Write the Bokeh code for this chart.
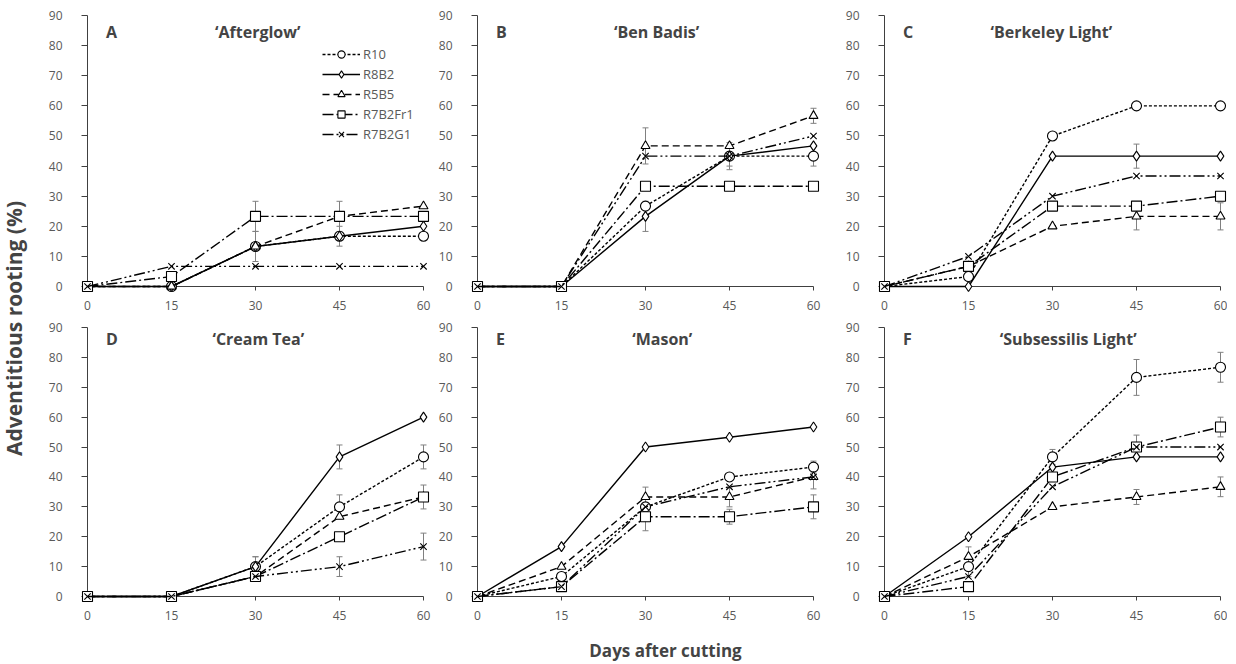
from bokeh.plotting import figure
from bokeh.layouts import row, column
from bokeh.models import (Range1d, Label, Legend, LegendItem, Whisker,
                          ColumnDataSource, FixedTicker, TeeHead)
from bokeh.embed import file_html
from bokeh.resources import INLINE

# ---------------- data ----------------
days = [0, 15, 30, 45, 60]
series_names = ["R10", "R8B2", "R5B5", "R7B2Fr1", "R7B2G1"]
panel_letters = ["A", "B", "C", "D", "E", "F"]
panel_titles = ["\u2018Afterglow\u2019", "\u2018Ben Badis\u2019", "\u2018Berkeley Light\u2019",
                "\u2018Cream Tea\u2019", "\u2018Mason\u2019", "\u2018Subsessilis Light\u2019"]

# A  'Afterglow'
afterglow_R10 = [0, 0, 13.3, 16.7, 16.7]
afterglow_R8B2 = [0, 0, 13.3, 16.7, 20.0]
afterglow_R5B5 = [0, 0, 13.3, 23.3, 26.7]
afterglow_R7B2Fr1 = [0, 3.3, 23.3, 23.3, 23.3]
afterglow_R7B2G1 = [0, 6.7, 6.7, 6.7, 6.7]
afterglow_R10_err = [0, 0, 5.0, 3.3, 0]
afterglow_R8B2_err = [0, 0, 0, 0, 0]
afterglow_R5B5_err = [0, 0, 0, 5.0, 0]
afterglow_R7B2Fr1_err = [0, 0, 5.0, 0, 0]
afterglow_R7B2G1_err = [0, 0, 0, 0, 0]

# B  'Ben Badis'
benbadis_R10 = [0, 0, 26.7, 43.3, 43.3]
benbadis_R8B2 = [0, 0, 23.3, 43.3, 46.7]
benbadis_R5B5 = [0, 0, 46.7, 46.7, 56.7]
benbadis_R7B2Fr1 = [0, 0, 33.3, 33.3, 33.3]
benbadis_R7B2G1 = [0, 0, 43.3, 43.3, 50.0]
benbadis_R10_err = [0, 0, 0, 3.3, 3.3]
benbadis_R8B2_err = [0, 0, 5.0, 0, 0]
benbadis_R5B5_err = [0, 0, 6.0, 0, 2.5]
benbadis_R7B2Fr1_err = [0, 0, 0, 0, 0]
benbadis_R7B2G1_err = [0, 0, 0, 4.5, 0]

# C  'Berkeley Light'
berkeley_R10 = [0, 3.3, 50.0, 60.0, 60.0]
berkeley_R8B2 = [0, 0, 43.3, 43.3, 43.3]
berkeley_R5B5 = [0, 6.7, 20.0, 23.3, 23.3]
berkeley_R7B2Fr1 = [0, 6.7, 26.7, 26.7, 30.0]
berkeley_R7B2G1 = [0, 10.0, 30.0, 36.7, 36.7]
berkeley_R10_err = [0, 0, 0, 0, 0]
berkeley_R8B2_err = [0, 0, 0, 4.0, 0]
berkeley_R5B5_err = [0, 0, 0, 4.5, 4.5]
berkeley_R7B2Fr1_err = [0, 0, 0, 0, 0]
berkeley_R7B2G1_err = [0, 0, 0, 0, 0]

# D  'Cream Tea'
creamtea_R10 = [0, 0, 10.0, 30.0, 46.7]
creamtea_R8B2 = [0, 0, 10.0, 46.7, 60.0]
creamtea_R5B5 = [0, 0, 6.7, 26.7, 33.3]
creamtea_R7B2Fr1 = [0, 0, 6.7, 20.0, 33.3]
creamtea_R7B2G1 = [0, 0, 6.7, 10.0, 16.7]
creamtea_R10_err = [0, 0, 3.3, 4.0, 4.0]
creamtea_R8B2_err = [0, 0, 3.3, 4.0, 0]
creamtea_R5B5_err = [0, 0, 0, 0, 4.0]
creamtea_R7B2Fr1_err = [0, 0, 0, 0, 0]
creamtea_R7B2G1_err = [0, 0, 0, 3.3, 4.5]

# E  'Mason'
mason_R10 = [0, 6.7, 30.0, 40.0, 43.3]
mason_R8B2 = [0, 16.7, 50.0, 53.3, 56.7]
mason_R5B5 = [0, 10.0, 33.3, 33.3, 40.0]
mason_R7B2Fr1 = [0, 3.3, 26.7, 26.7, 30.0]
mason_R7B2G1 = [0, 3.3, 30.0, 36.7, 40.0]
mason_R10_err = [0, 0, 0, 0, 2.0]
mason_R8B2_err = [0, 0, 0, 0, 0]
mason_R5B5_err = [0, 0, 3.3, 3.3, 4.0]
mason_R7B2Fr1_err = [0, 0, 4.7, 2.5, 4.0]
mason_R7B2G1_err = [0, 0, 0, 0, 0]

# F  'Subsessilis Light'
subsessilis_R10 = [0, 10.0, 46.7, 73.3, 76.7]
subsessilis_R8B2 = [0, 20.0, 43.3, 46.7, 46.7]
subsessilis_R5B5 = [0, 13.3, 30.0, 33.3, 36.7]
subsessilis_R7B2Fr1 = [0, 3.3, 40.0, 50.0, 56.7]
subsessilis_R7B2G1 = [0, 6.7, 36.7, 50.0, 50.0]
subsessilis_R10_err = [0, 3.3, 2.5, 6.0, 5.0]
subsessilis_R8B2_err = [0, 0, 0, 0, 0]
subsessilis_R5B5_err = [0, 3.3, 0, 2.5, 3.3]
subsessilis_R7B2Fr1_err = [0, 0, 0, 4.0, 3.3]
subsessilis_R7B2G1_err = [0, 0, 0, 0, 0]

panels_values = [
    [afterglow_R10, afterglow_R8B2, afterglow_R5B5, afterglow_R7B2Fr1, afterglow_R7B2G1],
    [benbadis_R10, benbadis_R8B2, benbadis_R5B5, benbadis_R7B2Fr1, benbadis_R7B2G1],
    [berkeley_R10, berkeley_R8B2, berkeley_R5B5, berkeley_R7B2Fr1, berkeley_R7B2G1],
    [creamtea_R10, creamtea_R8B2, creamtea_R5B5, creamtea_R7B2Fr1, creamtea_R7B2G1],
    [mason_R10, mason_R8B2, mason_R5B5, mason_R7B2Fr1, mason_R7B2G1],
    [subsessilis_R10, subsessilis_R8B2, subsessilis_R5B5, subsessilis_R7B2Fr1, subsessilis_R7B2G1],
]
panels_errors = [
    [afterglow_R10_err, afterglow_R8B2_err, afterglow_R5B5_err, afterglow_R7B2Fr1_err, afterglow_R7B2G1_err],
    [benbadis_R10_err, benbadis_R8B2_err, benbadis_R5B5_err, benbadis_R7B2Fr1_err, benbadis_R7B2G1_err],
    [berkeley_R10_err, berkeley_R8B2_err, berkeley_R5B5_err, berkeley_R7B2Fr1_err, berkeley_R7B2G1_err],
    [creamtea_R10_err, creamtea_R8B2_err, creamtea_R5B5_err, creamtea_R7B2Fr1_err, creamtea_R7B2G1_err],
    [mason_R10_err, mason_R8B2_err, mason_R5B5_err, mason_R7B2Fr1_err, mason_R7B2G1_err],
    [subsessilis_R10_err, subsessilis_R8B2_err, subsessilis_R5B5_err, subsessilis_R7B2Fr1_err, subsessilis_R7B2G1_err],
]

x_ticks = [0, 15, 30, 45, 60]
y_ticks = [0, 10, 20, 30, 40, 50, 60, 70, 80, 90]

# ---------------- styles / layout ----------------
FONT = "Open Sans"
GRAY = "#595959"
markers = ["circle", "diamond", "triangle", "square", "x"]
marker_sizes = [10, 10, 9, 10, 9]
dashes = ["3 2", "solid", "7 4", "11 3 2 3", "11 3 2 3 2 3"]
title_x = [30.4, 32.0, 29.8, 30.5, 33.0, 32.8]
border_right = [5, 22, 0]
row_frame_h = [286, 277]
row_y_top = [95.0, 92.68]
row_label_y = [84.4, 86.0]
FRAME_W = 343
BORDER_L, BORDER_B = 42, 33
YLAB_W = 45


def make_panel(i):
    col, rw = i % 3, i // 3
    p = figure(frame_width=FRAME_W, frame_height=row_frame_h[rw],
               x_range=Range1d(0, 61.25), y_range=Range1d(0, row_y_top[rw]),
               output_backend="svg", toolbar_location=None,
               min_border_left=BORDER_L, min_border_right=border_right[col],
               min_border_top=0, min_border_bottom=BORDER_B)
    p.outline_line_color = None
    p.grid.visible = False
    for ax in (p.xaxis[0], p.yaxis[0]):
        ax.axis_line_color = "#404040"
        ax.major_tick_line_color = "#404040"
        ax.minor_tick_line_color = None
        ax.major_tick_in = 0
        ax.major_label_text_font = FONT
        ax.major_label_text_font_size = "12px"
        ax.major_label_text_color = GRAY
    p.xaxis.ticker = FixedTicker(ticks=x_ticks)
    p.yaxis.ticker = FixedTicker(ticks=y_ticks)
    p.xaxis.bounds = (0, 60)
    p.yaxis.bounds = (0, 90)
    p.xaxis.major_tick_out = 4
    p.xaxis.major_label_standoff = 10
    p.yaxis.major_tick_out = 6
    p.yaxis.major_label_standoff = 19

    items = []
    for k, name in enumerate(series_names):
        vals = panels_values[i][k]
        errs = panels_errors[i][k]
        ex = [d for d, e in zip(days, errs) if e > 0]
        ey = [v for v, e in zip(vals, errs) if e > 0]
        ee = [e for e in errs if e > 0]
        if ex:
            wsrc = ColumnDataSource(dict(x=ex,
                                         upper=[a + b for a, b in zip(ey, ee)],
                                         lower=[a - b for a, b in zip(ey, ee)]))
            p.add_layout(Whisker(source=wsrc, base="x", upper="upper", lower="lower",
                                 line_color="#808080", line_width=1,
                                 upper_head=TeeHead(size=6, line_color="#808080", line_width=1),
                                 lower_head=TeeHead(size=6, line_color="#808080", line_width=1)))
        src = ColumnDataSource(dict(x=days, y=vals))
        ln = p.line("x", "y", source=src, line_color="black", line_width=1.4,
                    line_dash=dashes[k], level="overlay")
        sc = p.scatter("x", "y", source=src, marker=markers[k], size=marker_sizes[k],
                       line_color="black", line_width=1.1, fill_color="white",
                       level="overlay")
        items.append(LegendItem(label=name, renderers=[ln, sc]))

    p.add_layout(Label(x=3.3, y=row_label_y[rw], text=panel_letters[i], text_font=FONT,
                       text_font_style="bold", text_font_size="16px",
                       text_align="left", text_baseline="middle"))
    p.add_layout(Label(x=title_x[i], y=row_label_y[rw], text=panel_titles[i], text_font=FONT,
                       text_font_style="bold", text_font_size="16px",
                       text_align="center", text_baseline="middle"))
    if i == 0:
        leg = Legend(items=items, location=(235, 143), orientation="vertical",
                     glyph_width=38, glyph_height=18, label_height=18, spacing=2,
                     label_standoff=3, padding=0, margin=0,
                     label_text_font=FONT, label_text_font_size="13px",
                     label_text_color=GRAY, border_line_color=None,
                     background_fill_alpha=0)
        p.add_layout(leg)
    return p


panels = [make_panel(i) for i in range(6)]
total_h = sum(row_frame_h) + 2 * BORDER_B

ylab = figure(width=YLAB_W, height=total_h, x_range=Range1d(0, YLAB_W), y_range=Range1d(0, total_h),
              x_axis_type=None, y_axis_type=None, output_backend="svg",
              toolbar_location=None, min_border=0)
ylab.outline_line_color = None
ylab.grid.visible = False
ylab.add_layout(Label(x=13, y=total_h - 328, text="Adventitious rooting (%)", angle=90,
                      angle_units="deg", text_font=FONT, text_font_style="bold",
                      text_font_size="21px", text_align="center", text_baseline="middle"))

total_w = YLAB_W + sum(BORDER_L + FRAME_W + br for br in border_right)
XLAB_H = 32
xlab = figure(width=total_w, height=XLAB_H, x_range=Range1d(0, total_w), y_range=Range1d(0, XLAB_H),
              x_axis_type=None, y_axis_type=None, output_backend="svg",
              toolbar_location=None, min_border=0)
xlab.outline_line_color = None
xlab.grid.visible = False
xlab.add_layout(Label(x=665, y=XLAB_H - (650 - total_h), text="Days after cutting", text_font=FONT,
                      text_font_style="bold", text_font_size="17px",
                      text_align="center", text_baseline="middle"))

layout = column(row(ylab, column(row(*panels[:3]), row(*panels[3:]))), xlab)

open("out.html", "w").write(file_html(layout, INLINE))
